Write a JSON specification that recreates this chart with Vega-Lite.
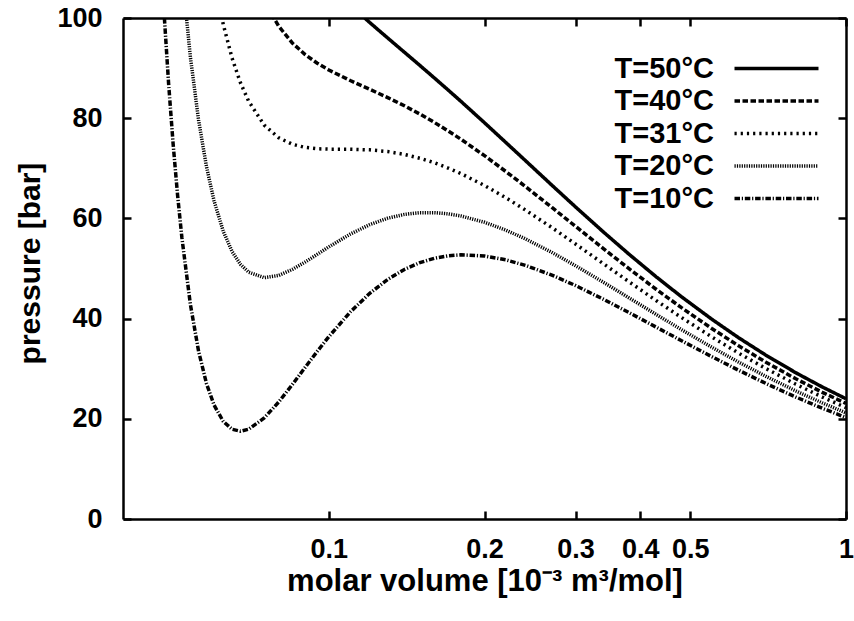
{
  "$schema": "https://vega.github.io/schema/vega-lite/v6.json",
  "autosize": {"type": "none"},
  "padding": {"left": 123, "top": 18, "right": 8, "bottom": 102},
  "width": 723,
  "height": 501,
  "background": "white",
  "config": {
    "view": {"stroke": null},
    "font": "Liberation Sans",
    "axis": {
      "domainColor": "black", "domainWidth": 2.5,
      "tickColor": "black", "tickWidth": 2.5, "tickSize": -8,
      "grid": false,
      "labelFont": "Liberation Sans", "labelFontSize": 27, "labelFontWeight": "bold", "labelColor": "black",
      "labelFlush": false, "labelOverlap": false, "labelBound": false,
      "titleFont": "Liberation Sans", "titleFontSize": 30, "titleFontWeight": "bold", "titleColor": "black"
    }
  },
  "data": {"values": [
    {"V":0.046,"P":139.0,"T":"T=10°C"},{"V":0.048,"P":101.4,"T":"T=10°C"},{"V":0.049,"P":86.97,"T":"T=10°C"},{"V":0.050,"P":74.86,"T":"T=10°C"},{"V":0.051,"P":64.66,"T":"T=10°C"},{"V":0.052,"P":56.08,"T":"T=10°C"},{"V":0.054,"P":42.81,"T":"T=10°C"},{"V":0.056,"P":33.49,"T":"T=10°C"},{"V":0.058,"P":27.05,"T":"T=10°C"},{"V":0.060,"P":22.73,"T":"T=10°C"},{"V":0.0625,"P":19.48,"T":"T=10°C"},{"V":0.065,"P":17.91,"T":"T=10°C"},{"V":0.0675,"P":17.52,"T":"T=10°C"},{"V":0.070,"P":17.92,"T":"T=10°C"},{"V":0.075,"P":20.16,"T":"T=10°C"},{"V":0.080,"P":23.35,"T":"T=10°C"},{"V":0.085,"P":26.82,"T":"T=10°C"},{"V":0.090,"P":30.26,"T":"T=10°C"},{"V":0.095,"P":33.47,"T":"T=10°C"},{"V":0.10,"P":36.39,"T":"T=10°C"},{"V":0.11,"P":41.30,"T":"T=10°C"},{"V":0.12,"P":45.05,"T":"T=10°C"},{"V":0.13,"P":47.82,"T":"T=10°C"},{"V":0.14,"P":49.81,"T":"T=10°C"},{"V":0.15,"P":51.17,"T":"T=10°C"},{"V":0.16,"P":52.04,"T":"T=10°C"},{"V":0.17,"P":52.53,"T":"T=10°C"},{"V":0.18,"P":52.73,"T":"T=10°C"},{"V":0.20,"P":52.50,"T":"T=10°C"},{"V":0.22,"P":51.72,"T":"T=10°C"},{"V":0.24,"P":50.62,"T":"T=10°C"},{"V":0.27,"P":48.68,"T":"T=10°C"},{"V":0.30,"P":46.60,"T":"T=10°C"},{"V":0.34,"P":43.84,"T":"T=10°C"},{"V":0.38,"P":41.24,"T":"T=10°C"},{"V":0.43,"P":38.27,"T":"T=10°C"},{"V":0.48,"P":35.63,"T":"T=10°C"},{"V":0.55,"P":32.41,"T":"T=10°C"},{"V":0.62,"P":29.69,"T":"T=10°C"},{"V":0.70,"P":27.06,"T":"T=10°C"},{"V":0.80,"P":24.34,"T":"T=10°C"},{"V":0.90,"P":22.10,"T":"T=10°C"},{"V":1.00,"P":20.24,"T":"T=10°C"},
    {"V":0.050,"P":132.1,"T":"T=20°C"},{"V":0.052,"P":109.13,"T":"T=20°C"},{"V":0.054,"P":92.17,"T":"T=20°C"},{"V":0.056,"P":79.63,"T":"T=20°C"},{"V":0.058,"P":70.35,"T":"T=20°C"},{"V":0.060,"P":63.49,"T":"T=20°C"},{"V":0.0625,"P":57.44,"T":"T=20°C"},{"V":0.065,"P":53.40,"T":"T=20°C"},{"V":0.0675,"P":50.82,"T":"T=20°C"},{"V":0.070,"P":49.27,"T":"T=20°C"},{"V":0.075,"P":48.17,"T":"T=20°C"},{"V":0.080,"P":48.62,"T":"T=20°C"},{"V":0.085,"P":49.81,"T":"T=20°C"},{"V":0.090,"P":51.29,"T":"T=20°C"},{"V":0.095,"P":52.83,"T":"T=20°C"},{"V":0.10,"P":54.31,"T":"T=20°C"},{"V":0.11,"P":56.86,"T":"T=20°C"},{"V":0.12,"P":58.76,"T":"T=20°C"},{"V":0.13,"P":60.04,"T":"T=20°C"},{"V":0.14,"P":60.80,"T":"T=20°C"},{"V":0.15,"P":61.14,"T":"T=20°C"},{"V":0.16,"P":61.15,"T":"T=20°C"},{"V":0.17,"P":60.92,"T":"T=20°C"},{"V":0.18,"P":60.49,"T":"T=20°C"},{"V":0.20,"P":59.23,"T":"T=20°C"},{"V":0.22,"P":57.65,"T":"T=20°C"},{"V":0.24,"P":55.91,"T":"T=20°C"},{"V":0.27,"P":53.21,"T":"T=20°C"},{"V":0.30,"P":50.55,"T":"T=20°C"},{"V":0.34,"P":47.22,"T":"T=20°C"},{"V":0.38,"P":44.18,"T":"T=20°C"},{"V":0.43,"P":40.80,"T":"T=20°C"},{"V":0.48,"P":37.84,"T":"T=20°C"},{"V":0.55,"P":34.29,"T":"T=20°C"},{"V":0.62,"P":31.32,"T":"T=20°C"},{"V":0.70,"P":28.48,"T":"T=20°C"},{"V":0.80,"P":25.56,"T":"T=20°C"},{"V":0.90,"P":23.17,"T":"T=20°C"},{"V":1.00,"P":21.18,"T":"T=20°C"},
    {"V":0.058,"P":117.45,"T":"T=31°C"},{"V":0.060,"P":107.83,"T":"T=31°C"},{"V":0.0625,"P":98.73,"T":"T=31°C"},{"V":0.065,"P":92.01,"T":"T=31°C"},{"V":0.0675,"P":87.03,"T":"T=31°C"},{"V":0.070,"P":83.36,"T":"T=31°C"},{"V":0.075,"P":78.63,"T":"T=31°C"},{"V":0.080,"P":76.10,"T":"T=31°C"},{"V":0.085,"P":74.80,"T":"T=31°C"},{"V":0.090,"P":74.17,"T":"T=31°C"},{"V":0.095,"P":73.90,"T":"T=31°C"},{"V":0.10,"P":73.82,"T":"T=31°C"},{"V":0.11,"P":73.80,"T":"T=31°C"},{"V":0.12,"P":73.68,"T":"T=31°C"},{"V":0.13,"P":73.34,"T":"T=31°C"},{"V":0.14,"P":72.77,"T":"T=31°C"},{"V":0.15,"P":72.00,"T":"T=31°C"},{"V":0.16,"P":71.10,"T":"T=31°C"},{"V":0.17,"P":70.06,"T":"T=31°C"},{"V":0.18,"P":68.95,"T":"T=31°C"},{"V":0.20,"P":66.57,"T":"T=31°C"},{"V":0.22,"P":64.11,"T":"T=31°C"},{"V":0.24,"P":61.67,"T":"T=31°C"},{"V":0.27,"P":58.16,"T":"T=31°C"},{"V":0.30,"P":54.88,"T":"T=31°C"},{"V":0.34,"P":50.92,"T":"T=31°C"},{"V":0.38,"P":47.40,"T":"T=31°C"},{"V":0.43,"P":43.57,"T":"T=31°C"},{"V":0.48,"P":40.26,"T":"T=31°C"},{"V":0.55,"P":36.35,"T":"T=31°C"},{"V":0.62,"P":33.11,"T":"T=31°C"},{"V":0.70,"P":30.03,"T":"T=31°C"},{"V":0.80,"P":26.89,"T":"T=31°C"},{"V":0.90,"P":24.34,"T":"T=31°C"},{"V":1.00,"P":22.22,"T":"T=31°C"},
    {"V":0.070,"P":110.96,"T":"T=40°C"},{"V":0.075,"P":103.29,"T":"T=40°C"},{"V":0.080,"P":98.35,"T":"T=40°C"},{"V":0.085,"P":95.02,"T":"T=40°C"},{"V":0.090,"P":92.69,"T":"T=40°C"},{"V":0.095,"P":90.97,"T":"T=40°C"},{"V":0.10,"P":89.62,"T":"T=40°C"},{"V":0.11,"P":87.52,"T":"T=40°C"},{"V":0.12,"P":85.77,"T":"T=40°C"},{"V":0.13,"P":84.11,"T":"T=40°C"},{"V":0.14,"P":82.48,"T":"T=40°C"},{"V":0.15,"P":80.82,"T":"T=40°C"},{"V":0.16,"P":79.15,"T":"T=40°C"},{"V":0.17,"P":77.47,"T":"T=40°C"},{"V":0.18,"P":75.81,"T":"T=40°C"},{"V":0.20,"P":72.52,"T":"T=40°C"},{"V":0.22,"P":69.35,"T":"T=40°C"},{"V":0.24,"P":66.36,"T":"T=40°C"},{"V":0.27,"P":62.18,"T":"T=40°C"},{"V":0.30,"P":58.40,"T":"T=40°C"},{"V":0.34,"P":53.92,"T":"T=40°C"},{"V":0.38,"P":50.02,"T":"T=40°C"},{"V":0.43,"P":45.81,"T":"T=40°C"},{"V":0.48,"P":42.23,"T":"T=40°C"},{"V":0.55,"P":38.03,"T":"T=40°C"},{"V":0.62,"P":34.57,"T":"T=40°C"},{"V":0.70,"P":31.30,"T":"T=40°C"},{"V":0.80,"P":27.98,"T":"T=40°C"},{"V":0.90,"P":25.28,"T":"T=40°C"},{"V":1.00,"P":23.06,"T":"T=40°C"},
    {"V":0.10,"P":107.01,"T":"T=50°C"},{"V":0.11,"P":102.63,"T":"T=50°C"},{"V":0.12,"P":99.09,"T":"T=50°C"},{"V":0.13,"P":96.00,"T":"T=50°C"},{"V":0.14,"P":93.17,"T":"T=50°C"},{"V":0.15,"P":90.53,"T":"T=50°C"},{"V":0.16,"P":88.03,"T":"T=50°C"},{"V":0.17,"P":85.65,"T":"T=50°C"},{"V":0.18,"P":83.38,"T":"T=50°C"},{"V":0.20,"P":79.09,"T":"T=50°C"},{"V":0.22,"P":75.14,"T":"T=50°C"},{"V":0.24,"P":71.53,"T":"T=50°C"},{"V":0.27,"P":66.62,"T":"T=50°C"},{"V":0.30,"P":62.28,"T":"T=50°C"},{"V":0.34,"P":57.24,"T":"T=50°C"},{"V":0.38,"P":52.91,"T":"T=50°C"},{"V":0.43,"P":48.30,"T":"T=50°C"},{"V":0.48,"P":44.41,"T":"T=50°C"},{"V":0.55,"P":39.89,"T":"T=50°C"},{"V":0.62,"P":36.18,"T":"T=50°C"},{"V":0.70,"P":32.70,"T":"T=50°C"},{"V":0.80,"P":29.18,"T":"T=50°C"},{"V":0.90,"P":26.35,"T":"T=50°C"},{"V":1.00,"P":24.00,"T":"T=50°C"}
  ]},
  "layer": [
    {
      "mark": {"type": "line", "clip": true, "color": "black", "strokeWidth": 3.5, "strokeCap": "butt"},
      "encoding": {
        "x": {
          "field": "V", "type": "quantitative",
          "scale": {"type": "log", "domain": [0.04, 1], "nice": false},
          "axis": {
            "orient": "bottom", "values": [0.1, 0.2, 0.3, 0.4, 0.5, 1], "format": "~g",
            "labelPadding": 25,
            "title": "molar volume [10⁻³ m³/mol]", "titleFontSize": 31,
            "titleX": 361.5, "titleY": 71, "titleBaseline": "alphabetic", "titleAlign": "center"
          }
        },
        "y": {
          "field": "P", "type": "quantitative",
          "scale": {"domain": [0, 100], "nice": false, "zero": false},
          "axis": {
            "orient": "left", "values": [0, 20, 40, 60, 80, 100],
            "labelPadding": 29,
            "title": "pressure [bar]",
            "titleX": -93, "titleY": 245, "titleAngle": 270, "titleBaseline": "middle", "titleAlign": "center"
          }
        },
        "strokeDash": {
          "field": "T", "type": "nominal",
          "scale": {
            "domain": ["T=50°C", "T=40°C", "T=31°C", "T=20°C", "T=10°C"],
            "range": [[1, 0], [5.5, 2.5], [2.2, 4], [1.2, 1.2], [5.5, 1.8, 1.2, 1.8]]
          },
          "legend": {
            "orient": "none", "legendX": 639, "legendY": 36,
            "title": null, "padding": 0,
            "symbolType": "M-4,0H4", "symbolSize": 441, "symbolOffset": 0,
            "symbolStrokeWidth": 3.5, "symbolStrokeColor": "black",
            "labelAlign": "right", "labelOffset": -77, "labelLimit": 0,
            "labelFont": "Liberation Sans", "labelFontSize": 29, "labelFontWeight": "bold", "labelColor": "black",
            "rowPadding": 2.5
          }
        }
      }
    },
    {
      "mark": {"type": "line", "strokeOpacity": 0},
      "encoding": {
        "x": {
          "field": "V", "type": "quantitative",
          "scale": {"type": "log", "domain": [0.04, 1], "nice": false},
          "axis": {"orient": "top", "values": [0.1, 0.2, 0.3, 0.4, 0.5, 1], "labels": false, "title": null}
        },
        "y": {
          "field": "P", "type": "quantitative",
          "scale": {"domain": [0, 100], "nice": false, "zero": false},
          "axis": {"orient": "right", "values": [0, 20, 40, 60, 80, 100], "labels": false, "title": null}
        },
        "detail": {"field": "T", "type": "nominal"}
      }
    }
  ],
  "resolve": {"axis": {"x": "independent", "y": "independent"}}
}
